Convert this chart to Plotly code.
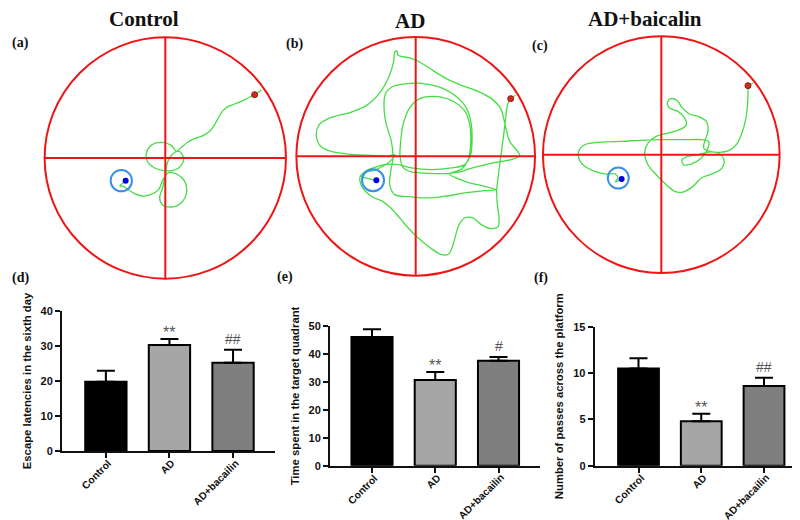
import plotly.graph_objects as go

W, H = 800, 520

# ---------------- data ----------------
groups_top = ["Control", "AD", "AD+baicalin"]
panel_tags_top = ["(a)", "(b)", "(c)"]

# tracker frame coordinates (image pixels, y downward)
pool_center = [(472, 450), (413, 445), (370, 440)]
pool_radius = [362, 358, 355]
platform_center = [(340, 518), (285, 517), (241, 510)]
platform_radius = [32, 33, 31.5]
end_point = [(353, 518), (295, 517), (251, 513)]
start_point = [(740, 260), (698, 272), (630, 233)]

track_control = [(760,246),(740,260),(720,270),(700,280),(680,288),(660,296),(645,308),(632,328),(620,350),
                 (605,370),(585,383),(560,392),(540,402),(520,418),(505,430),(490,412),(462,403),(432,410),
                 (416,432),(418,460),(440,480),(470,488),(500,486),(520,472),(527,450),(514,430),(492,440),
                 (479,462),(472,500),(464,540),(455,568),(463,590),(490,597),(520,584),(536,552),(529,518),
                 (506,498),(482,494),(465,515),(452,545),(428,560),(402,564),(380,557),(362,546),(346,535),
                 (336,534),(353,518)]

track_ad = [(712,262),(698,272),(688,292),(683,330),(677,380),(671,425),(665,470),(660,510),(656,545),(658,590),
            (663,630),(660,656),(638,662),(610,650),(584,630),(560,630),(543,650),(532,685),(522,720),(512,738),
            (490,740),(460,722),(432,700),(405,675),(380,648),(355,618),(332,594),(310,578),(285,568),(262,550),
            (248,528),(246,507),(258,494),(285,488),(315,475),(338,458),(350,440),
            (330,444),(280,442),(220,439),(165,432),(128,415),(115,385),(122,352),(155,330),(215,314),(265,293),
            (305,255),(332,208),(346,165),(350,133),(356,128),(360,142),(395,150),(430,165),(465,188),(505,212),
            (550,232),(600,250),(640,272),(668,302),(680,345),(695,400),(725,443),
            (700,455),(660,462),(615,472),(575,482),(545,492),(500,497),(450,496),(400,492),(375,478),(366,445),
            (368,400),(375,350),(395,300),(425,272),(480,266),(530,283),(562,312),(576,355),(578,405),(572,450),
            (552,482),(515,498),(560,520),(620,535),(655,545),
            (620,548),(560,555),(500,565),(440,570),(390,566),(350,560),(335,530),(338,490),(345,450),(340,400),
            (325,350),(318,300),(322,258),(340,238),(380,228),(430,226),(480,236),(530,262),(565,300),(580,350),
            (582,400),(578,440),(560,470),(520,480),(460,485),(400,480),(360,470),(320,470),(290,478),(262,490),
            (250,505),(270,512),(295,517)]

track_baicalin = [(645,225),(632,233),(630,262),(628,300),(622,340),(610,380),(595,410),(572,428),(545,433),
                  (515,430),(497,420),(500,400),(510,370),(505,340),(480,325),(455,318),(432,298),(418,278),
                  (398,272),(388,285),(395,300),(420,310),(440,330),(445,350),(425,365),(390,375),(355,385),
                  (330,405),(320,435),(330,470),(355,500),(385,530),(410,550),(435,552),(465,535),(490,510),
                  (525,497),(552,480),(558,455),(540,435),(510,432),(480,440),(450,445),(432,455),(437,470),
                  (460,468),(490,450),(510,420),(512,400),(490,395),(440,395),(380,395),(320,396),(250,400),
                  (190,402),(140,410),(122,430),(124,455),(140,475),(170,490),(205,498),(232,498),(240,510),
                  (232,522),(251,513)]
tracks = [track_control, track_ad, track_baicalin]

categories = ["Control", "AD", "AD+bacailin"]
escape_latency = [19.8, 30.3, 25.2]
escape_latency_err = [3.1, 1.7, 3.7]
escape_marks = ["", "**", "##"]

time_quadrant = [46.2, 30.7, 37.6]
time_quadrant_err = [2.7, 2.9, 1.4]
time_marks = ["", "**", "#"]

platform_passes = [10.5, 4.8, 8.6]
platform_passes_err = [1.1, 0.8, 0.9]
passes_marks = ["", "**", "##"]

bar_colors = ["#000000", "#a6a6a6", "#7f7f7f"]
y_titles = ["Escape latencies in the sixth day", "Time spent in the target quadrant",
            "Number of passes across the platform"]
y_ranges = [(0, 40), (0, 50), (0, 15)]
y_dticks = [10, 10, 5]
panel_tags_bottom = ["(d)", "(e)", "(f)"]

# ---------------- layout helpers ----------------
def px_x(p):
    return p / W

def px_y(p):
    return 1 - p / H

fig = go.Figure()
layout = dict(width=W, height=H, margin=dict(l=0, r=0, t=0, b=0, pad=0),
              paper_bgcolor="white", plot_bgcolor="white", showlegend=False,
              shapes=[], annotations=[])

serif = "Liberation Serif, Times New Roman, serif"
sans = "Liberation Sans, Arial, sans-serif"

# top trajectory panels: pixel position of pool centre
pool_px = [(157.3, 150.0), (407.7, 148.3), (653.3, 146.7)]
half = 400  # half window in tracker units (tracker unit = 1/3 px)
title_pos = [(136, 11), (402, 13), (637, 11)]
tag_pos_top = [(12, 35), (286, 36), (532, 38)]

for i in range(3):
    n = i + 1
    xa = "x" if n == 1 else f"x{n}"
    ya = "y" if n == 1 else f"y{n}"
    cxp, cyp = pool_px[i]
    hp = half / 3
    cx, cy = pool_center[i]
    layout[f"xaxis{'' if n == 1 else n}"] = dict(
        domain=[px_x(cxp - hp), px_x(cxp + hp)], range=[cx - half, cx + half],
        visible=False, anchor=ya, fixedrange=True)
    layout[f"yaxis{'' if n == 1 else n}"] = dict(
        domain=[px_y(cyp + hp), px_y(cyp - hp)], range=[cy + half, cy - half],
        visible=False, anchor=xa, fixedrange=True)
    R = pool_radius[i]
    red = "#f01515"
    layout["shapes"] += [
        dict(type="circle", xref=xa, yref=ya, x0=cx - R, x1=cx + R, y0=cy - R, y1=cy + R,
             line=dict(color=red, width=2)),
        dict(type="line", xref=xa, yref=ya, x0=cx - R, x1=cx + R, y0=cy, y1=cy,
             line=dict(color=red, width=2)),
        dict(type="line", xref=xa, yref=ya, x0=cx, x1=cx, y0=cy - R, y1=cy + R,
             line=dict(color=red, width=2)),
    ]
    px_, py_ = platform_center[i]
    pr = platform_radius[i]
    layout["shapes"].append(dict(type="circle", xref=xa, yref=ya, x0=px_ - pr, x1=px_ + pr,
                                 y0=py_ - pr, y1=py_ + pr, line=dict(color="#3a8fea", width=2)))
    tx = [p[0] for p in tracks[i]]
    ty = [p[1] for p in tracks[i]]
    fig.add_trace(go.Scatter(x=tx, y=ty, mode="lines", xaxis=xa, yaxis=ya,
                             line=dict(color="#45dd45", width=1.3, shape="spline", smoothing=0.9),
                             hoverinfo="skip"))
    fig.add_trace(go.Scatter(x=[end_point[i][0]], y=[end_point[i][1]], mode="markers",
                             xaxis=xa, yaxis=ya, marker=dict(color="#0000e6", size=6)))
    fig.add_trace(go.Scatter(x=[start_point[i][0]], y=[start_point[i][1]], mode="markers",
                             xaxis=xa, yaxis=ya, marker=dict(color="#d42a1a", size=6,
                                                             line=dict(color="#8a2010", width=1))))
    layout["annotations"].append(dict(
        text=f"<b>{groups_top[i]}</b>", x=px_x(title_pos[i][0]), y=px_y(title_pos[i][1]),
        xref="paper", yref="paper", showarrow=False, xanchor="center", yanchor="middle",
        font=dict(family=serif, size=21, color="#111")))
    layout["annotations"].append(dict(
        text=f"<b>{panel_tags_top[i]}</b>", x=px_x(tag_pos_top[i][0]), y=px_y(tag_pos_top[i][1]),
        xref="paper", yref="paper", showarrow=False, xanchor="center", yanchor="middle",
        font=dict(family=serif, size=14, color="#111")))

# bottom bar panels: pixel boxes (left, right, top, bottom) and category scale
bar_boxes = [(54, 267, 303, 443), (322, 532, 318.3, 457.7), (586.7, 797, 318.7, 457.7)]
x_ranges = [(-0.69, 2.66), (-0.664, 2.656), (-0.698, 2.653)]
tag_pos_bottom = [(12, 270), (277, 269), (533, 270)]
values = [escape_latency, time_quadrant, platform_passes]
errors = [escape_latency_err, time_quadrant_err, platform_passes_err]
marks = [escape_marks, time_marks, passes_marks]
axis_font = dict(family=sans, color="#111")

for i in range(3):
    n = i + 4
    xa, ya = f"x{n}", f"y{n}"
    l, r, t, b = bar_boxes[i]
    layout[f"xaxis{n}"] = dict(
        domain=[px_x(l), px_x(r)], range=list(x_ranges[i]), anchor=ya, type="category",
        showline=True, linecolor="#111", linewidth=2, ticks="outside", ticklen=5, tickwidth=2,
        tickcolor="#111", showgrid=False, zeroline=False, showticklabels=False, automargin=False,
        fixedrange=True)
    layout[f"yaxis{n}"] = dict(
        domain=[px_y(b), px_y(t)], range=list(y_ranges[i]), dtick=y_dticks[i], anchor=xa,
        showline=True, linecolor="#111", linewidth=2, ticks="outside", ticklen=5, tickwidth=2,
        tickcolor="#111", showgrid=False, zeroline=False, automargin=False,
        tickfont=dict(size=11, weight="bold", **axis_font),
        title=dict(text=y_titles[i], font=dict(size=11.3, weight="bold", **axis_font), standoff=7),
        fixedrange=True)
    fig.add_trace(go.Bar(
        x=categories, y=values[i], xaxis=xa, yaxis=ya, width=0.65,
        marker=dict(color=bar_colors, line=dict(color="#000", width=2)),
        error_y=dict(type="data", symmetric=False, array=errors[i], arrayminus=[0, 0, 0],
                     color="#000", thickness=2, width=9),
        hoverinfo="skip"))
    for k in range(3):
        # rotated category label, its upper-right end just under the tick
        layout["annotations"].append(dict(
            text=f"<b>{categories[k]}</b>", x=categories[k], y=0, xref=xa, yref=ya,
            showarrow=False, textangle=-45, xanchor="right", yanchor="top", borderpad=0,
            xshift=9, yshift=-5, font=dict(size=10.3, **axis_font)))
        if marks[i][k]:
            shift = -4 if marks[i][k].startswith("*") else 1
            layout["annotations"].append(dict(
                text=marks[i][k], x=categories[k], y=values[i][k] + errors[i][k],
                xref=xa, yref=ya, showarrow=False, xanchor="center", yanchor="bottom",
                yshift=shift, font=dict(family=sans, size=16 if marks[i][k].startswith("*") else 14,
                                        color="#555")))
    layout["annotations"].append(dict(
        text=f"<b>{panel_tags_bottom[i]}</b>", x=px_x(tag_pos_bottom[i][0]),
        y=px_y(tag_pos_bottom[i][1]), xref="paper", yref="paper", showarrow=False,
        xanchor="center", yanchor="middle", font=dict(family=serif, size=14, color="#111")))

fig.update_layout(**layout)
fig.write_html("out.html")
